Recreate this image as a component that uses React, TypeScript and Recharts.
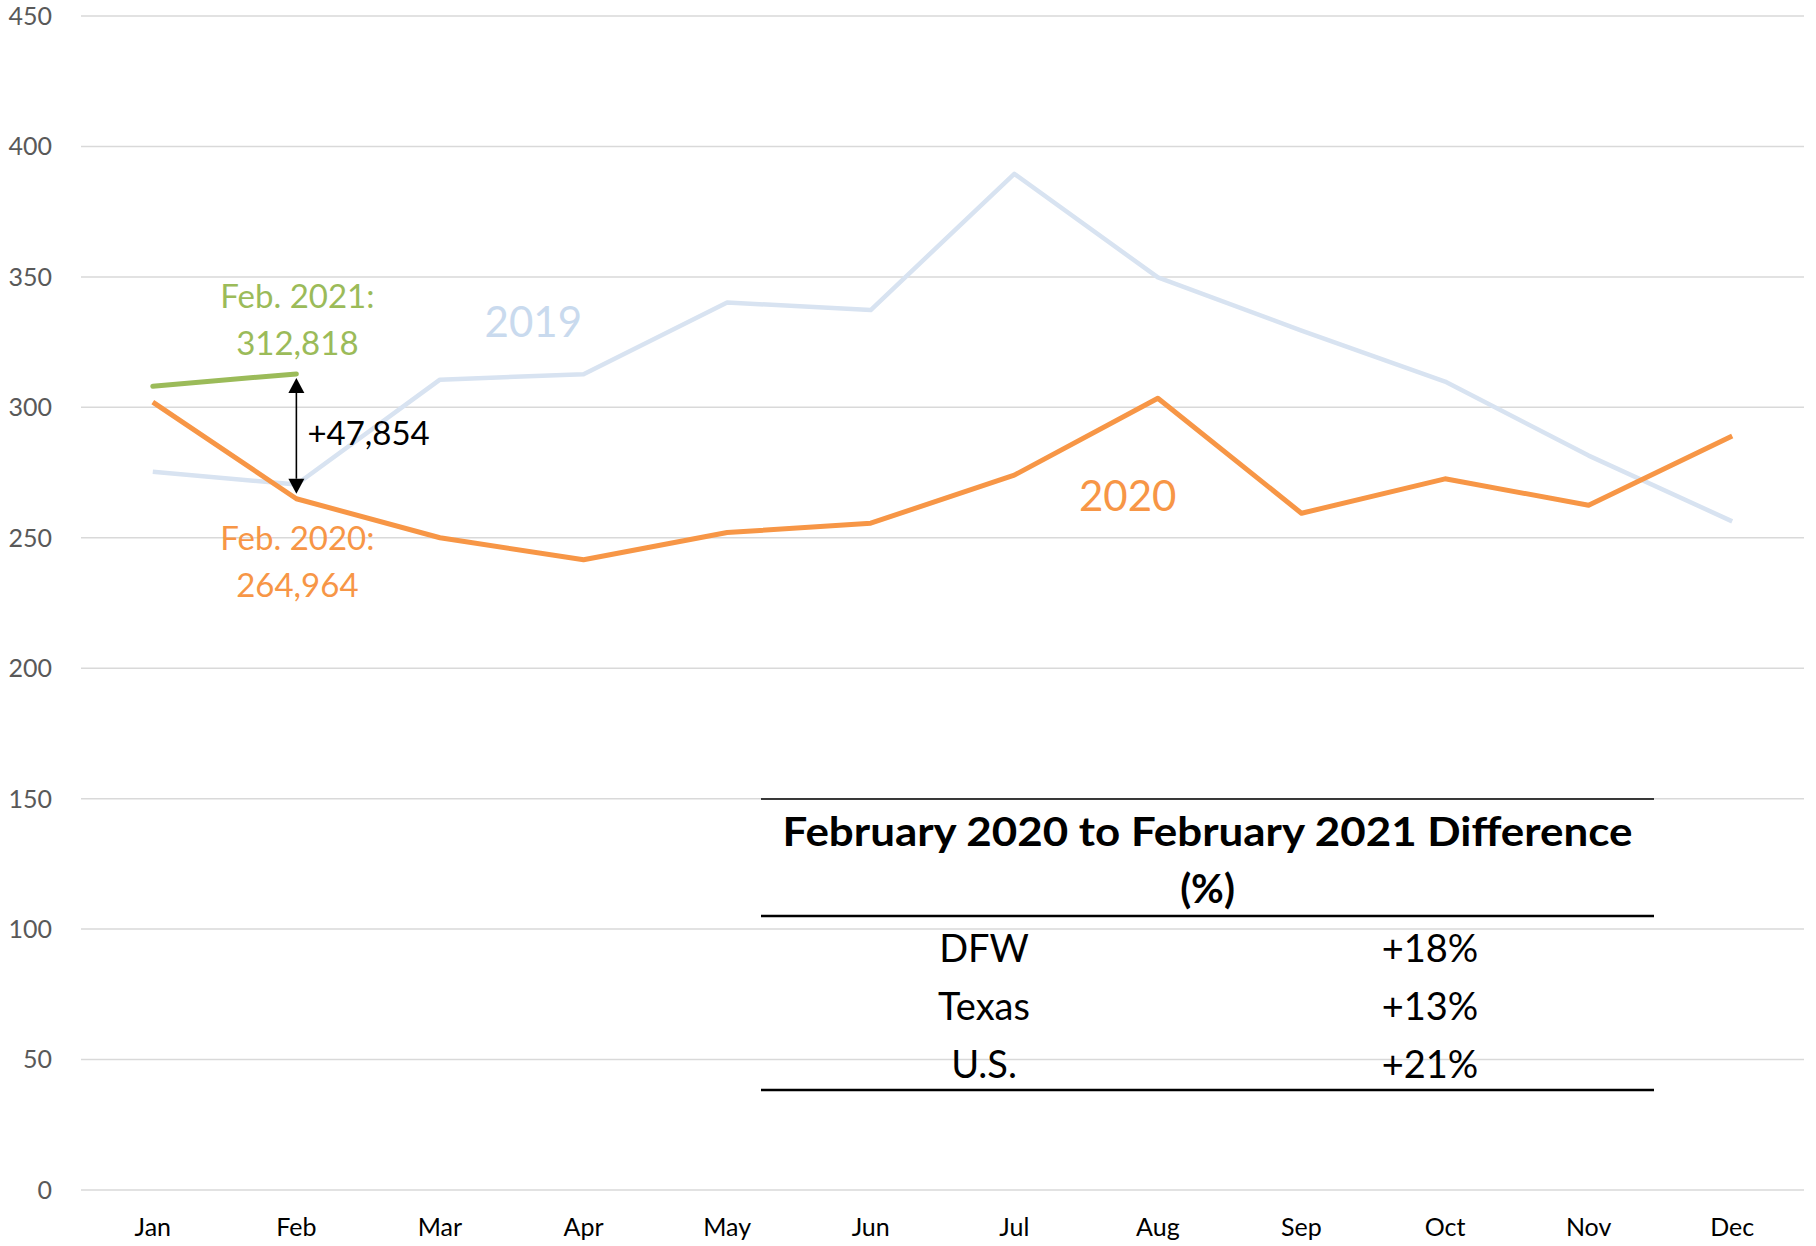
import React from 'react';
import { LineChart, Line, XAxis, YAxis, CartesianGrid, ReferenceLine, ReferenceDot } from 'recharts';

const months = ['Jan', 'Feb', 'Mar', 'Apr', 'May', 'Jun', 'Jul', 'Aug', 'Sep', 'Oct', 'Nov', 'Dec'];
const values2019 = [275.3, 270.4, 310.6, 312.7, 340.2, 337.3, 389.5, 349.8, 329.4, 309.9, 281.5, 256.3];
const values2020 = [302.0, 264.964, 250.0, 241.6, 252.0, 255.6, 274.0, 303.5, 259.4, 272.6, 262.5, 289.0];
const values2021 = [308.1, 312.818];
const yTicks = [0, 50, 100, 150, 200, 250, 300, 350, 400, 450];
const tableTitle = ['February 2020 to February 2021 Difference', '(%)'];
const tableRegions = ['DFW', 'Texas', 'U.S.'];
const tableChanges = ['+18%', '+13%', '+21%'];
const feb2021Label = ['Feb. 2021:', '312,818'];
const feb2020Label = ['Feb. 2020:', '264,964'];
const diffLabel = '+47,854';

const ORANGE = '#F79646';
const GREEN = '#9BBB59';
const BLUE = '#D8E3F1';
const GRID = '#D9D9D9';
const FONT = 'Lato, "Open Sans", sans-serif';

const data = months.map((m, i) => ({
  x: i + 0.5,
  month: m,
  y2019: values2019[i],
  y2020: values2020[i],
  y2021: i < values2021.length ? values2021[i] : null,
}));

const labelTicks = months.map((_, i) => i + 0.5);
const boundaryTicks = months.map((_, i) => i).concat([months.length]);

const ArrowShape = (p: any) => {
  const x = p.x1;
  const top = Math.min(p.y1, p.y2) + 4;
  const bot = Math.max(p.y1, p.y2) - 5;
  const hw = 8;
  const hl = 15;
  return (
    <g>
      <line x1={x} y1={top + hl} x2={x} y2={bot - hl} stroke="#000" strokeWidth={1.6} />
      <polygon points={`${x},${top} ${x - hw},${top + hl} ${x + hw},${top + hl}`} fill="#000" />
      <polygon points={`${x},${bot} ${x - hw},${bot - hl} ${x + hw},${bot - hl}`} fill="#000" />
      <text x={x + 11} y={(top + bot) / 2 - 4} fill="#000" fontSize={33} fontFamily={FONT} dominantBaseline="central">
        {diffLabel}
      </text>
    </g>
  );
};

const GreenLabel = (p: any) => {
  if (p.index !== 1) return <g />;
  return (
    <g>
      <text x={p.x + 1} y={p.y - 79} fill={GREEN} fontSize={33} fontFamily={FONT} textAnchor="middle" dominantBaseline="central">
        {feb2021Label[0]}
      </text>
      <text x={p.x + 1} y={p.y - 32} fill={GREEN} fontSize={33} fontFamily={FONT} textAnchor="middle" dominantBaseline="central">
        {feb2021Label[1]}
      </text>
    </g>
  );
};

const OrangeLabel = (p: any) => {
  if (p.index !== 1) return <g />;
  return (
    <g>
      <text x={p.x + 1} y={p.y + 38} fill={ORANGE} fontSize={33} fontFamily={FONT} textAnchor="middle" dominantBaseline="central">
        {feb2020Label[0]}
      </text>
      <text x={p.x + 1} y={p.y + 85} fill={ORANGE} fontSize={33} fontFamily={FONT} textAnchor="middle" dominantBaseline="central">
        {feb2020Label[1]}
      </text>
    </g>
  );
};

const SeriesName = (color: string, text: string) => (p: any) => {
  const vb = p.viewBox || {};
  const cx = vb.x + (vb.width || 0) / 2;
  const cy = vb.y + (vb.height || 0) / 2;
  return (
    <text x={cx} y={cy} fill={color} fontSize={42} fontFamily={FONT} textAnchor="middle" dominantBaseline="central">
      {text}
    </text>
  );
};

const Table = () => {
  const left = 761;
  const right = 1654;
  const w = right - left;
  const txt = (x: number, y: number, s: string, bold: boolean, key: string, len?: number) => (
    <text
      key={key}
      x={x}
      y={y}
      textAnchor="middle"
      dominantBaseline="central"
      fontSize={bold ? 40 : 38}
      fontWeight={bold ? 700 : 400}
      fill="#000"
      fontFamily={FONT}
      textLength={len}
      lengthAdjust={len ? 'spacingAndGlyphs' : undefined}
    >
      {s}
    </text>
  );
  return (
    <svg width={1816} height={1246} style={{ position: 'absolute', left: 0, top: 0, pointerEvents: 'none' }}>
      <line x1={left} x2={right} y1={799} y2={799} stroke="#000" strokeWidth={1.5} />
      <line x1={left} x2={right} y1={916} y2={916} stroke="#000" strokeWidth={2.5} />
      <line x1={left} x2={right} y1={1090} y2={1090} stroke="#000" strokeWidth={2.5} />
      {tableTitle.map((t, i) => txt(left + w / 2, 831 + i * 57, t, true, 't' + i, i === 0 ? 850 : undefined))}
      {tableRegions.map((r, i) => txt(984, 947 + i * 58, r, false, 'r' + i))}
      {tableChanges.map((c, i) => txt(1430, 947 + i * 58, c, false, 'c' + i))}
    </svg>
  );
};

export default function App() {
  return (
    <div style={{ position: 'absolute', left: 0, top: 0, width: 1816, height: 1246, background: '#fff', fontFamily: FONT }}>
      <LineChart width={1816} height={1246} data={data} margin={{ top: 16, right: 12, left: 0, bottom: 0 }}>
        <CartesianGrid xAxisId="lbl" vertical={false} stroke={GRID} strokeWidth={1.5} />
        <XAxis
          xAxisId="tk"
          type="number"
          dataKey="x"
          domain={[0, 12]}
          ticks={boundaryTicks}
          tick={false}
          tickSize={10}
          height={0}
          axisLine={{ stroke: GRID, strokeWidth: 1.5 }}
          tickLine={{ stroke: GRID, strokeWidth: 1.5 }}
          interval={0}
        />
        <XAxis
          xAxisId="lbl"
          type="number"
          dataKey="x"
          domain={[0, 12]}
          ticks={labelTicks}
          tickFormatter={(v: number) => months[Math.floor(v)]}
          axisLine={false}
          tickLine={false}
          tickSize={0}
          tickMargin={28}
          height={56}
          interval={0}
          tick={{ fill: '#000', fontSize: 25, fontFamily: FONT }}
        />
        <YAxis
          domain={[0, 450]}
          ticks={yTicks}
          axisLine={false}
          tickLine={false}
          tickSize={0}
          tickMargin={29}
          width={81}
          interval={0}
          tick={{ fill: '#595959', fontSize: 25, fontFamily: FONT }}
        />
        <Line xAxisId="lbl" dataKey="y2019" stroke={BLUE} strokeWidth={4.5} dot={false} isAnimationActive={false} strokeLinejoin="round" />
        <Line xAxisId="lbl" dataKey="y2020" stroke={ORANGE} strokeWidth={5} dot={false} isAnimationActive={false} label={OrangeLabel} strokeLinejoin="round" />
        <Line xAxisId="lbl" dataKey="y2021" stroke={GREEN} strokeWidth={5} dot={false} isAnimationActive={false} label={GreenLabel} strokeLinecap="round" />
        <ReferenceLine
          xAxisId="lbl"
          segment={[{ x: 1.5, y: values2021[1] }, { x: 1.5, y: values2020[1] }]}
          shape={(p: any) => <ArrowShape {...p} />}
        />
        <ReferenceDot xAxisId="lbl" x={3.15} y={333} r={0} fill="none" stroke="none" label={SeriesName('#C9DAEE', '2019')} />
        <ReferenceDot xAxisId="lbl" x={7.29} y={266.3} r={0} fill="none" stroke="none" label={SeriesName(ORANGE, '2020')} />
      </LineChart>
      <Table />
    </div>
  );
}
